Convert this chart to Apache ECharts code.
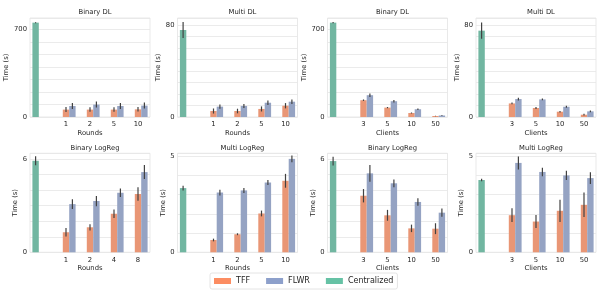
<!DOCTYPE html>
<html><head><meta charset="utf-8">
<script src="https://cdn.jsdelivr.net/npm/echarts@6/dist/echarts.min.js"></script>
<style>html,body{margin:0;padding:0;background:#fff}#c{width:598px;height:306px}</style>
</head><body><div id="c"></div>
<script>
// ---- Data ----
const titles = ['Binary DL','Multi DL','Binary DL','Multi DL','Binary LogReg','Multi LogReg','Binary LogReg','Multi LogReg'];
const xNames = ['Rounds','Rounds','Clients','Clients','Rounds','Rounds','Clients','Clients'];
const catsRoundsDL = ['', '1', '2', '5', '10'];
const catsClients = ['', '3', '5', '10', '50'];
const catsRoundsBinLR = ['', '1', '2', '4', '8'];
const catsRoundsMultiLR = ['', '1', '2', '5', '10'];
const yTopLabels = [700, 80, 700, 80, 6, 5, 6, 5];
const yMax = [790, 86, 790, 86, 6.37, 5.15, 6.37, 5.15];
const yInterval = [100, 10, 100, 10, 1, 1, 1, 1];

// Binary DL vs rounds
const binDLRoundsCentral = [753];      const binDLRoundsCentralErr = [4];
const binDLRoundsTFF = [59, 59, 59, 61];  const binDLRoundsTFFErr = [20, 18, 18, 18];
const binDLRoundsFLWR = [88, 99, 88, 91]; const binDLRoundsFLWRErr = [24, 24, 24, 24];
// Multi DL vs rounds
const multiDLRoundsCentral = [75.6];   const multiDLRoundsCentralErr = [7];
const multiDLRoundsTFF = [5.2, 5.2, 7.0, 9.8];   const multiDLRoundsTFFErr = [2.2, 2.0, 2.2, 2.3];
const multiDLRoundsFLWR = [9.0, 9.6, 12.4, 13.3]; const multiDLRoundsFLWRErr = [1.8, 1.8, 2.0, 2.0];
// Binary DL vs clients
const binDLClientsCentral = [753];     const binDLClientsCentralErr = [5];
const binDLClientsTFF = [134, 75, 32, 8];   const binDLClientsTFFErr = [6, 5, 4, 2];
const binDLClientsFLWR = [174, 126, 62, 12]; const binDLClientsFLWRErr = [14, 10, 6, 3];
// Multi DL vs clients
const multiDLClientsCentral = [75];    const multiDLClientsCentralErr = [7];
const multiDLClientsTFF = [11.8, 7.8, 4.6, 2.0];  const multiDLClientsTFFErr = [0.8, 0.8, 0.6, 0.8];
const multiDLClientsFLWR = [15.6, 15.3, 8.9, 4.9]; const multiDLClientsFLWRErr = [1.2, 0.8, 0.8, 0.8];
// Binary LogReg vs rounds
const binLRRoundsCentral = [5.89];     const binLRRoundsCentralErr = [0.29];
const binLRRoundsTFF = [1.29, 1.61, 2.48, 3.75]; const binLRRoundsTFFErr = [0.27, 0.2, 0.27, 0.44];
const binLRRoundsFLWR = [3.1, 3.3, 3.83, 5.16];  const binLRRoundsFLWRErr = [0.32, 0.33, 0.27, 0.45];
// Multi LogReg vs rounds
const multiLRRoundsCentral = [3.34];   const multiLRRoundsCentralErr = [0.12];
const multiLRRoundsTFF = [0.64, 0.94, 2.02, 3.72]; const multiLRRoundsTFFErr = [0.07, 0.05, 0.15, 0.36];
const multiLRRoundsFLWR = [3.11, 3.22, 3.63, 4.86]; const multiLRRoundsFLWRErr = [0.15, 0.13, 0.13, 0.17];
// Binary LogReg vs clients
const binLRClientsCentral = [5.87];    const binLRClientsCentralErr = [0.28];
const binLRClientsTFF = [3.64, 2.38, 1.54, 1.52]; const binLRClientsTFFErr = [0.43, 0.35, 0.24, 0.35];
const binLRClientsFLWR = [5.08, 4.44, 3.24, 2.55]; const binLRClientsFLWRErr = [0.54, 0.25, 0.24, 0.27];
// Multi LogReg vs clients
const multiLRClientsCentral = [3.76];  const multiLRClientsCentralErr = [0.06];
const multiLRClientsTFF = [1.93, 1.60, 2.16, 2.47]; const multiLRClientsTFFErr = [0.36, 0.34, 0.58, 0.64];
const multiLRClientsFLWR = [4.65, 4.18, 4.0, 3.86]; const multiLRClientsFLWRErr = [0.34, 0.22, 0.24, 0.31];

const panels = [
  [catsRoundsDL, binDLRoundsCentral, binDLRoundsCentralErr, binDLRoundsTFF, binDLRoundsTFFErr, binDLRoundsFLWR, binDLRoundsFLWRErr],
  [catsRoundsDL, multiDLRoundsCentral, multiDLRoundsCentralErr, multiDLRoundsTFF, multiDLRoundsTFFErr, multiDLRoundsFLWR, multiDLRoundsFLWRErr],
  [catsClients, binDLClientsCentral, binDLClientsCentralErr, binDLClientsTFF, binDLClientsTFFErr, binDLClientsFLWR, binDLClientsFLWRErr],
  [catsClients, multiDLClientsCentral, multiDLClientsCentralErr, multiDLClientsTFF, multiDLClientsTFFErr, multiDLClientsFLWR, multiDLClientsFLWRErr],
  [catsRoundsBinLR, binLRRoundsCentral, binLRRoundsCentralErr, binLRRoundsTFF, binLRRoundsTFFErr, binLRRoundsFLWR, binLRRoundsFLWRErr],
  [catsRoundsMultiLR, multiLRRoundsCentral, multiLRRoundsCentralErr, multiLRRoundsTFF, multiLRRoundsTFFErr, multiLRRoundsFLWR, multiLRRoundsFLWRErr],
  [catsClients, binLRClientsCentral, binLRClientsCentralErr, binLRClientsTFF, binLRClientsTFFErr, binLRClientsFLWR, binLRClientsFLWRErr],
  [catsClients, multiLRClientsCentral, multiLRClientsCentralErr, multiLRClientsTFF, multiLRClientsTFFErr, multiLRClientsFLWR, multiLRClientsFLWRErr]
];

// ---- Layout / style ----
const lefts = [30, 177.5, 327.5, 476];
const tops = [18, 153.3];
const gw = 120, gh = 99;
const yNameGaps = [13, 8, 13, 8, 10, 7, 7, 9];
const FONT = 'DejaVu Sans';
const colTFF = '#e99675', colFLWR = '#95a3c3', colCen = '#71b6a1';
const legTFF = '#fc8d62', legFLWR = '#8da0cb', legCen = '#66c2a5';

function errRender(slot) {
  return function (params, api) {
    const x = api.value(0);
    const lo = api.coord([x, api.value(1)]);
    const hi = api.coord([x, api.value(2)]);
    const bw = api.size([1, 0])[0] * 0.8 / 3;
    const dx = (slot - 1) * bw;
    return { type: 'line', shape: { x1: lo[0] + dx, y1: lo[1], x2: hi[0] + dx, y2: hi[1] },
             style: { stroke: '#424242', lineWidth: 1.2 } };
  };
}

const grid = [], xAxis = [], yAxis = [], series = [], title = [];
panels.forEach((p, k) => {
  const [cats, cen, cenE, tff, tffE, fl, flE] = p;
  const row = Math.floor(k / 4), col = k % 4;
  grid.push({ left: lefts[col], top: tops[row], width: gw, height: gh, show: true,
              borderColor: '#e3e3e3', borderWidth: 0.8, containLabel: false });
  title.push({ text: titles[k], left: lefts[col] + gw / 2, top: tops[row] - 14, textAlign: 'center',
               textStyle: { fontFamily: FONT, fontSize: 6.8, fontWeight: 'normal', color: '#262626' } });
  xAxis.push({ type: 'category', gridIndex: k, data: cats,
    axisTick: { show: false }, axisLine: { show: false },
    axisLabel: { fontFamily: FONT, fontSize: 6.8, color: '#262626', margin: 4 },
    name: xNames[k], nameLocation: 'middle', nameGap: 12.5,
    nameTextStyle: { fontFamily: FONT, fontSize: 6.8, color: '#262626' } });
  const topLab = yTopLabels[k];
  yAxis.push({ type: 'value', gridIndex: k, min: 0, max: yMax[k], interval: yInterval[k],
    axisTick: { show: false }, axisLine: { show: false },
    splitLine: { lineStyle: { color: '#e6e6e6', width: 0.8 } },
    axisLabel: { fontFamily: FONT, fontSize: 6.8, color: '#262626', margin: 3,
      formatter: v => (v === 0 || Math.abs(v - topLab) < 1e-9) ? String(v) : '' },
    name: 'Time (s)', nameLocation: 'middle', nameGap: yNameGaps[k],
    nameTextStyle: { fontFamily: FONT, fontSize: 6.8, color: '#262626' } });
  const cenData = cats.map((c, i) => i === 0 ? cen[0] : null);
  const tffData = cats.map((c, i) => i === 0 ? null : tff[i - 1]);
  const flData = cats.map((c, i) => i === 0 ? null : fl[i - 1]);
  const common = { type: 'bar', xAxisIndex: k, yAxisIndex: k, barGap: '0%', barCategoryGap: '20%' };
  series.push(Object.assign({ name: 'Centralized', data: cenData, itemStyle: { color: colCen } }, common));
  series.push(Object.assign({ name: 'TFF', data: tffData, itemStyle: { color: colTFF } }, common));
  series.push(Object.assign({ name: 'FLWR', data: flData, itemStyle: { color: colFLWR } }, common));
  const eCen = [[0, cen[0] - cenE[0], cen[0] + cenE[0]]];
  const eTFF = tff.map((v, i) => [i + 1, v - tffE[i], v + tffE[i]]);
  const eFL = fl.map((v, i) => [i + 1, v - flE[i], v + flE[i]]);
  [[eCen, 0], [eTFF, 1], [eFL, 2]].forEach(([d, s]) => {
    series.push({ type: 'custom', xAxisIndex: k, yAxisIndex: k, renderItem: errRender(s),
      data: d, encode: { x: 0, y: [1, 2] }, z: 5, silent: true });
  });
});

const chart = echarts.init(document.getElementById('c'), null, { renderer: 'canvas' });
chart.setOption({
  animation: false,
  backgroundColor: '#fff',
  title, grid, xAxis, yAxis, series,
  legend: {
    left: 210, top: 273, orient: 'horizontal', itemWidth: 17, itemHeight: 6, itemGap: 16,
    padding: [4, 4], borderColor: '#dddddd', borderWidth: 0.8, borderRadius: 2,
    textStyle: { fontFamily: FONT, fontSize: 8, color: '#262626' },
    data: [
      { name: 'TFF', itemStyle: { color: legTFF }, icon: 'rect' },
      { name: 'FLWR', itemStyle: { color: legFLWR }, icon: 'rect' },
      { name: 'Centralized', itemStyle: { color: legCen }, icon: 'rect' }
    ]
  }
});
</script></body></html>
